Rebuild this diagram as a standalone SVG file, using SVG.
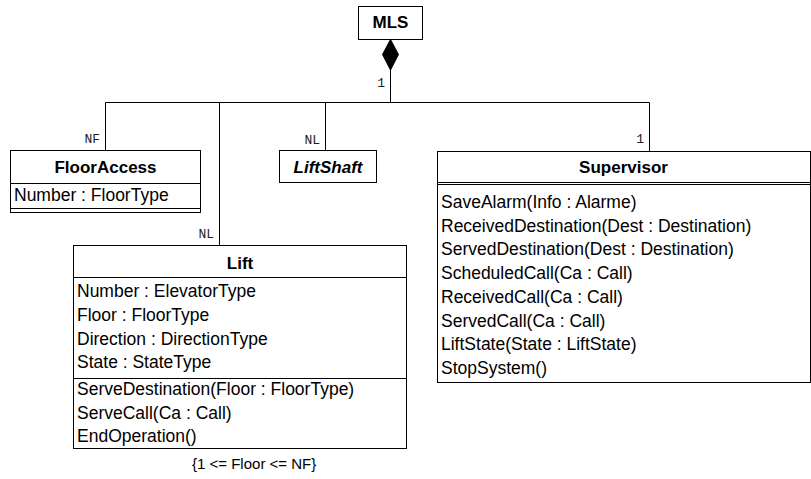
<svg xmlns="http://www.w3.org/2000/svg" width="811" height="479" viewBox="0 0 811 479">
  <style>
    .box { fill: #ffffff; stroke: #000000; stroke-width: 1; }
    .sep { stroke: #000000; stroke-width: 1; fill: none; }
    .title { font-family: "Liberation Sans", Arial, sans-serif; font-size: 17px; font-weight: bold; text-anchor: middle; fill: #000; }
    .abstract { font-style: italic; }
    .member { font-family: "Liberation Sans", Arial, sans-serif; font-size: 17.5px; fill: #000; }
    .mult { font-family: "Liberation Mono", "Courier New", monospace; font-size: 13px; text-anchor: end; fill: #222; }
    .constraint { font-family: "Liberation Sans", Arial, sans-serif; font-size: 15px; fill: #000; }
    .conn { stroke: #000000; stroke-width: 1; fill: none; }
  </style>

  <!-- composition links from MLS to its parts -->
  <g id="connectors">
    <path class="conn" d="M390.5,70 V102.5 H105.5 V150.5"/>
    <path class="conn" d="M390.5,70 V102.5 H219.5 V245.5"/>
    <path class="conn" d="M390.5,70 V102.5 H325.5 V150.5"/>
    <path class="conn" d="M390.5,70 V102.5 H649.5 V151.5"/>
    <!-- filled diamond at the whole (MLS) end -->
    <polygon points="390.5,39.5 398.5,54.5 390.5,70 382.5,54.5" fill="#000" stroke="#000" stroke-width="1"/>
    <text class="mult" x="385" y="87">1</text>
    <text class="mult" x="100" y="143">NF</text>
    <text class="mult" x="214" y="238">NL</text>
    <text class="mult" x="320" y="144">NL</text>
    <text class="mult" x="644" y="143">1</text>
  </g>

  <g id="MLS">
    <rect class="box" x="358.5" y="6.5" width="64" height="33"/>
    <text class="title" x="390.5" y="28">MLS</text>
  </g>

  <g id="FloorAccess">
    <rect class="box" x="10.5" y="150.5" width="190" height="62"/>
    <text class="title" x="105.5" y="173">FloorAccess</text>
    <line class="sep" x1="10.5" y1="183.5" x2="200.5" y2="183.5"/>
    <text class="member" x="14" y="201">Number : FloorType</text>
    <line class="sep" x1="10.5" y1="208.5" x2="200.5" y2="208.5"/>
  </g>

  <g id="LiftShaft">
    <rect class="box" x="279.5" y="150.5" width="97" height="32"/>
    <text class="title abstract" x="328" y="173">LiftShaft</text>
  </g>

  <g id="Supervisor">
    <rect class="box" x="437.5" y="151.5" width="373" height="231"/>
    <text class="title" x="623.5" y="173">Supervisor</text>
    <line class="sep" x1="437.5" y1="182.5" x2="810.5" y2="182.5"/>
    <line class="sep" x1="437.5" y1="184.5" x2="810.5" y2="184.5"/>
    <text class="member" x="441" y="208">SaveAlarm(Info : Alarme)</text>
    <text class="member" x="441" y="231.7">ReceivedDestination(Dest : Destination)</text>
    <text class="member" x="441" y="255.4">ServedDestination(Dest : Destination)</text>
    <text class="member" x="441" y="279.1">ScheduledCall(Ca : Call)</text>
    <text class="member" x="441" y="302.8">ReceivedCall(Ca : Call)</text>
    <text class="member" x="441" y="326.5">ServedCall(Ca : Call)</text>
    <text class="member" x="441" y="350.2">LiftState(State : LiftState)</text>
    <text class="member" x="441" y="373.9">StopSystem()</text>
  </g>

  <g id="Lift">
    <rect class="box" x="73.5" y="245.5" width="333" height="203"/>
    <text class="title" x="240" y="269">Lift</text>
    <line class="sep" x1="73.5" y1="277.5" x2="406.5" y2="277.5"/>
    <text class="member" x="77" y="297">Number : ElevatorType</text>
    <text class="member" x="77" y="321">Floor : FloorType</text>
    <text class="member" x="77" y="345">Direction : DirectionType</text>
    <text class="member" x="77" y="368">State : StateType</text>
    <line class="sep" x1="73.5" y1="378.5" x2="406.5" y2="378.5"/>
    <text class="member" x="77" y="395">ServeDestination(Floor : FloorType)</text>
    <text class="member" x="77" y="419">ServeCall(Ca : Call)</text>
    <text class="member" x="77" y="442">EndOperation()</text>
    <text class="constraint" x="192" y="469">{1 &lt;= Floor &lt;= NF}</text>
  </g>
</svg>
